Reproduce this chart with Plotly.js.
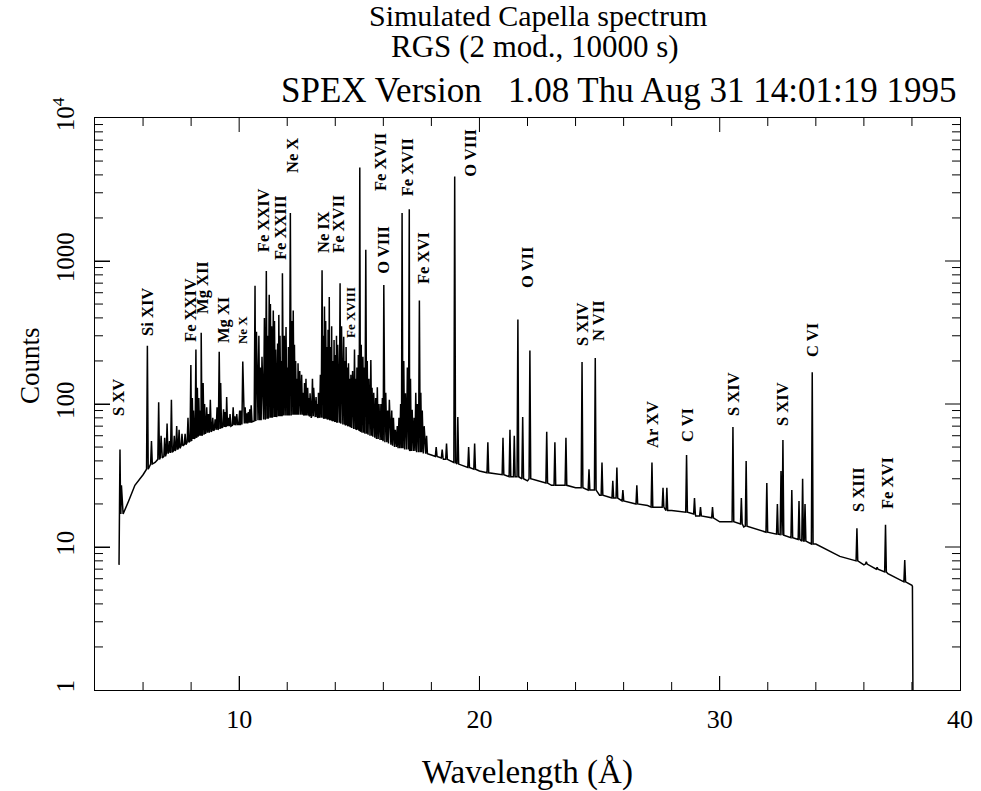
<!DOCTYPE html>
<html>
<head>
<meta charset="utf-8">
<script src="https://cdn.plot.ly/plotly-3.0.1.min.js"></script>
<style>html,body{margin:0;padding:0;background:#fff;}#chart{width:981px;height:791px;}</style>
</head>
<body>
<div id="chart"></div>
<script>
// ---- continuum (lower envelope of the spectrum) ----
const contWave   = [5.00, 5.17, 5.4, 5.66, 6.0, 6.2, 6.5, 6.8, 7.2, 7.6, 8.0, 8.6, 9.0, 9.5, 10.0, 10.5, 11.0, 11.5, 12.0, 12.5, 13.0, 13.5, 14.0, 14.5, 15.0, 15.5, 16.0, 16.5, 17.0, 17.5, 18.0, 18.5, 19.0, 19.5, 20.0, 21.0, 22.0, 23.0, 24.0, 25.0, 26.0, 27.0, 28.0, 29.0, 30.0, 31.0, 32.0, 33.0, 34.0, 35.0, 36.0, 37.0, 38.0, 38.02, 38.04];
const contCounts = [7.5, 17, 21, 27, 32, 35, 39, 42, 46, 50, 56, 62, 66, 70, 72, 75, 78, 80, 82, 82, 80, 77, 73, 68, 64, 59, 55, 50, 48, 46, 44, 41, 38, 36, 34, 31, 29, 27, 26, 23, 21, 19.5, 18, 16.5, 15, 13.8, 12.5, 11.5, 10.5, 8.6, 7.5, 6.5, 5.4, 5.3, 1];

// ---- emission lines: wavelength (Å), peak counts, local floor counts ----
const lineWave  = [5.04, 5.10, 6.18, 6.65, 6.75, 7.00, 7.10, 7.18, 7.50, 7.75, 7.87, 7.99, 8.10, 8.20, 8.32, 8.42, 8.50, 8.65, 8.80, 9.00, 9.17, 9.23, 9.35, 9.48, 9.62, 9.75, 9.90, 10.02, 10.15, 10.25, 10.38, 10.50, 10.66, 10.82, 10.95, 11.13, 11.25, 11.35, 11.42, 11.52, 11.60, 11.70, 11.80, 11.95, 12.05, 12.13, 12.25, 12.35, 12.45, 12.60, 12.72, 12.85, 12.95, 13.05, 13.20, 13.30, 13.45, 13.55, 13.65, 13.75, 13.85, 13.95, 14.05, 14.20, 14.35, 14.45, 14.55, 14.65, 14.80, 14.90, 15.02, 15.15, 15.27, 15.40, 15.48, 15.60, 15.75, 15.90, 16.02, 16.10, 16.25, 16.35, 16.50, 16.65, 16.78, 16.92, 17.08, 17.20, 17.35, 17.50, 17.62, 17.80, 18.20, 18.45, 18.63, 18.97, 19.10, 19.55, 19.80, 20.35, 20.98, 21.27, 21.45, 21.60, 21.80, 22.10, 22.80, 23.14, 23.60, 24.27, 24.56, 24.82, 25.10, 25.55, 25.72, 25.97, 26.55, 27.18, 27.64, 27.80, 28.62, 28.95, 29.20, 29.70, 30.55, 30.90, 31.10, 31.96, 32.40, 32.55, 32.63, 33.00, 33.30, 33.45, 33.55, 33.85, 35.71, 36.10, 36.55, 36.90, 37.70,
  10.72, 10.88, 11.05, 11.18, 11.30, 11.47, 11.65, 11.75, 11.88, 12.00, 12.20, 12.30, 12.40, 12.52, 12.66, 12.78, 12.90, 13.10, 13.25, 13.38, 13.50, 13.60, 13.70, 13.80, 13.90, 14.00, 14.10, 14.26, 14.40, 14.50, 14.60, 14.72, 14.85, 14.96, 15.08, 15.20, 15.33, 15.53, 15.68, 15.82, 15.96, 16.18, 16.42, 16.58, 16.72, 16.85, 17.00, 17.13, 17.28, 17.42, 17.56, 17.70, 8.05, 8.26, 8.38, 8.56, 8.72, 8.90, 9.08, 9.42, 9.55, 9.82, 10.08, 10.32, 10.44, 6.35, 6.9, 7.3, 7.4, 7.62];
const linePeak  = [48, 27, 255, 103, 60, 73, 55, 107, 66, 62, 80, 187, 90, 240, 110, 315, 140, 95, 107, 78, 232, 140, 92, 112, 85, 95, 85, 90, 198, 95, 88, 98, 670, 300, 214, 850, 580, 350, 450, 240, 265, 300, 820, 345, 250, 2170, 450, 200, 193, 160, 140, 130, 119, 150, 112, 120, 860, 480, 250, 560, 350, 280, 300, 700, 295, 250, 193, 160, 240, 180, 4500, 214, 1200, 150, 203, 120, 131, 100, 680, 120, 107, 90, 66, 80, 2170, 119, 2300, 91, 120, 530, 90, 60, 50, 48, 53, 3900, 81, 50, 53, 54, 58, 66, 60, 390, 81, 237, 64, 54, 58, 197, 35, 210, 39, 29, 36, 25, 27, 39, 26, 26, 44, 22, 19, 19, 69, 22, 40, 28, 20, 34, 56, 25, 21, 30, 20, 167, 13.5, 7.9, 7.2, 14.3, 8.1,
  320, 180, 400, 300, 500, 380, 420, 200, 300, 180, 380, 260, 150, 170, 120, 150, 110, 130, 100, 160, 300, 380, 330, 250, 200, 220, 260, 350, 200, 180, 150, 170, 150, 220, 260, 180, 200, 130, 110, 100, 110, 90, 80, 70, 100, 200, 180, 150, 80, 100, 120, 70, 110, 130, 90, 100, 85, 80, 95, 88, 80, 82, 90, 86, 92, 55, 58, 60, 70, 62];
const lineFloor = [17, 18, 35, 41, 42, 45, 46, 46, 49, 52, 54, 55, 57, 58, 60, 60, 61, 63, 64, 66, 67, 68, 69, 70, 70, 71, 72, 72, 73, 73, 74, 75, 76, 77, 78, 79, 80, 80, 81, 81, 82, 82, 83, 83, 83, 83, 84, 84, 84, 84, 83, 83, 82, 82, 81, 80, 80, 79, 79, 78, 77, 76, 75, 74, 72, 71, 70, 69, 67, 66, 65, 63, 62, 61, 60, 59, 57, 56, 55, 54, 53, 52, 50, 49, 49, 48, 48, 47, 47, 46, 46, 45, 43, 42, 41, 39, 38, 36, 35, 33, 32, 31, 31, 31, 30, 30, 28, 27, 27, 26, 25, 25, 23, 22, 22, 21, 20, 19, 19, 18, 17.5, 17, 16.5, 16, 15, 14.5, 14, 12.7, 12.3, 12.2, 12.1, 11.6, 11.3, 11, 11, 10.5, 8, 7.6, 7, 6.7, 5.7,
  77, 77, 78, 79, 80, 81, 82, 82, 83, 83, 84, 84, 84, 84, 84, 83, 83, 82, 81, 80, 80, 79, 78, 77, 76, 75, 74, 73, 72, 71, 70, 68, 67, 66, 64, 63, 62, 60, 58, 57, 56, 54, 51, 50, 49, 49, 48, 47, 47, 46, 46, 45, 57, 59, 60, 62, 63, 65, 66, 69, 70, 71, 72, 73, 74, 38, 43, 47, 48, 51];

// ---- ticks ----
const xTickVals  = [10, 20, 30, 40];
const xTickText  = ['10', '20', '30', '40'];
const xMinorVals = [6, 8, 12, 14, 16, 18, 22, 24, 26, 28, 32, 34, 36, 38];
const yTickVals  = [1, 10, 100, 1000, 10000];
const yTickText  = ['1', '10', '100', '1000', '10<sup>4</sup>'];
const yMinorVals = [2, 3, 4, 5, 6, 7, 8, 9, 20, 30, 40, 50, 60, 70, 80, 90, 200, 300, 400, 500, 600, 700, 800, 900, 2000, 3000, 4000, 5000, 6000, 7000, 8000, 9000];

// ---- line identifications ----
const labelText = ['S XV', 'Si XIV', 'Fe XXIV', 'Mg XII', 'Mg XI', 'Ne X', 'Fe XXIV', 'Fe XXIII', 'Ne X', 'Ne IX', 'Fe XVII', 'Fe XVIII', 'Fe XVII', 'O VIII', 'Fe XVII', 'Fe XVI', 'O VIII', 'O VII', 'S XIV', 'N VII', 'Ar XV', 'C VI', 'S XIV', 'S XIV', 'C VI', 'S XIII', 'Fe XVI'];
const labelWave = [4.96, 6.16, 7.95, 8.45, 9.33, 10.12, 11.0, 11.7, 12.2, 13.49, 14.11, 14.61, 15.86, 15.98, 17.0, 17.65, 19.6, 21.98, 24.27, 24.93, 27.18, 28.64, 30.55, 32.59, 33.84, 35.75, 36.96];

// layout positions for labels (pixel centres) and small-font flags
const labelPy  = [398, 312, 310, 287, 320, 330, 220, 228, 156, 232, 224, 312, 162, 250, 167, 258, 153, 268, 324, 320, 424, 425, 394, 404, 340, 490, 483];
const smallLbl = [false,false,false,false,false,true,false,false,false,false,false,true,false,false,false,false,false,false,false,false,false,false,false,false,false,false,false];

// build spectrum polyline
const HALF = 0.035;
const pts = [];
contWave.forEach((w, i) => {
  const inLine = lineWave.some(lw => Math.abs(lw - w) <= HALF + 0.005);
  if (!inLine || i === 0 || i >= contWave.length - 3) pts.push([w, contCounts[i]]);
});
lineWave.forEach((w, i) => {
  pts.push([w - HALF, lineFloor[i]]);
  pts.push([w, linePeak[i]]);
  pts.push([w + HALF, lineFloor[i]]);
});
pts.sort((a, b) => a[0] - b[0]);

const trace = {
  x: pts.map(p => p[0]),
  y: pts.map(p => p[1]),
  type: 'scatter',
  mode: 'lines',
  line: {color: '#000', width: 1.5},
  hoverinfo: 'x+y'
};

const SERIF = 'Liberation Serif, Times New Roman, serif';
const PLOT_W = 865, PLOT_H = 572;
const PX = px => (px - 95) / PLOT_W;
const PY = py => (690 - py) / PLOT_H;
const X_MIN = 4, X_MAX = 40, LOG_MAX = 4;

const annotations = labelText.map((t, i) => ({
  x: labelWave[i],
  y: (690 - labelPy[i]) / 143,
  xref: 'x', yref: 'y',
  text: '<b>' + t + '</b>',
  showarrow: false,
  textangle: -90,
  xanchor: 'center', yanchor: 'middle',
  font: {family: SERIF, size: smallLbl[i] ? 13 : 16.5, color: '#000'}
}));
annotations.push(
  {x: PX(538), y: PY(15), xref: 'paper', yref: 'paper', xanchor: 'center', yanchor: 'middle', showarrow: false,
   text: 'Simulated Capella spectrum', font: {family: SERIF, size: 30, color: '#000'}},
  {x: PX(535), y: PY(47), xref: 'paper', yref: 'paper', xanchor: 'center', yanchor: 'middle', showarrow: false,
   text: 'RGS (2 mod., 10000 s)', font: {family: SERIF, size: 31, color: '#000'}},
  {x: PX(958), y: PY(90), xref: 'paper', yref: 'paper', xanchor: 'right', yanchor: 'middle', showarrow: false,
   text: 'SPEX Version&nbsp;&nbsp;&nbsp;1.08 Thu Aug 31 14:01:19 1995', font: {family: SERIF, size: 35, color: '#000'}},
  {x: PX(30), y: PY(366), xref: 'paper', yref: 'paper', xanchor: 'center', yanchor: 'middle', showarrow: false,
   textangle: -90, text: 'Counts', font: {family: SERIF, size: 27, color: '#000'}}
);

// tick marks on all four sides (inward), placed from the tick value lists
const shapes = [];
const tickLine = (x0, y0, x1, y1) => ({type: 'line', xref: 'paper', yref: 'paper', x0, y0, x1, y1,
  line: {color: '#000', width: 1}, layer: 'above'});
const addXTicks = (vals, len) => vals.forEach(v => {
  const fx = (v - X_MIN) / (X_MAX - X_MIN);
  shapes.push(tickLine(fx, 0, fx, len / PLOT_H));
  shapes.push(tickLine(fx, 1, fx, 1 - len / PLOT_H));
});
const addYTicks = (vals, len) => vals.forEach(v => {
  const fy = Math.log10(v) / LOG_MAX;
  shapes.push(tickLine(0, fy, len / PLOT_W, fy));
  shapes.push(tickLine(1, fy, 1 - len / PLOT_W, fy));
});
addXTicks(xTickVals.filter(v => v < X_MAX), 14);
addXTicks(xMinorVals, 8);
addYTicks(yTickVals.filter(v => v > 1 && v < 10000), 15);
addYTicks(yMinorVals, 8);

const layout = {
  width: 981, height: 791,
  margin: {l: 95, r: 21, t: 118, b: 101},
  paper_bgcolor: '#fff', plot_bgcolor: '#fff',
  showlegend: false,
  xaxis: {
    range: [X_MIN, X_MAX], automargin: false,
    tickmode: 'array', tickvals: xTickVals, ticktext: xTickText,
    ticks: 'inside', ticklen: 14, tickwidth: 1, tickcolor: '#000',
    showline: true, linecolor: '#000', linewidth: 1, mirror: true,
    showgrid: false, zeroline: false,
    tickfont: {family: SERIF, size: 26, color: '#000'},
    ticklabelstandoff: 6,
    title: {text: 'Wavelength (Å)', font: {family: SERIF, size: 33, color: '#000'}, standoff: 28}
  },
  yaxis: {
    type: 'log', range: [0, LOG_MAX], automargin: false,
    tickmode: 'array', tickvals: yTickVals, ticktext: yTickText,
    tickangle: -90,
    ticks: 'inside', ticklen: 15, tickwidth: 1, tickcolor: '#000',
    showline: true, linecolor: '#000', linewidth: 1, mirror: true,
    showgrid: false, zeroline: false,
    tickfont: {family: SERIF, size: 25, color: '#000'},
    ticklabelstandoff: 10
  },
  annotations: annotations,
  shapes: shapes
};

Plotly.newPlot('chart', [trace], layout, {staticPlot: true, displayModeBar: false});
</script>
</body>
</html>
